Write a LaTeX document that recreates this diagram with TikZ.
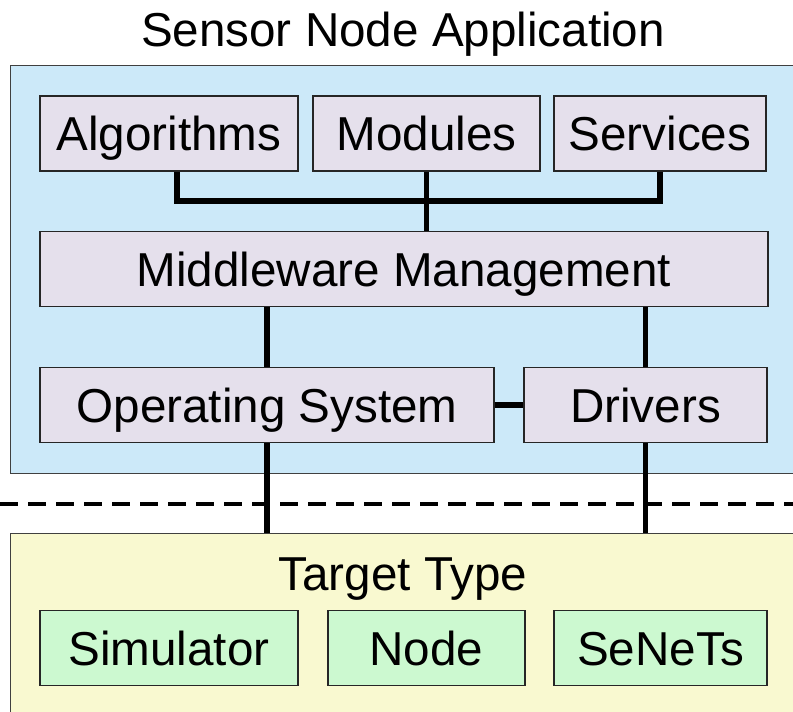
\documentclass[tikz,border=0pt]{standalone}
\usepackage{fontspec}
\setmainfont{Liberation Sans}
\usetikzlibrary{positioning, fit}
\definecolor{appblue}{RGB}{204,233,249}
\definecolor{boxlilac}{RGB}{229,224,236}
\definecolor{tgtyellow}{RGB}{249,249,208}
\definecolor{tgtgreen}{RGB}{204,249,208}
\tikzstyle{line} = [draw, line width=5.5pt]
\tikzstyle{cut} = [draw, line width=4pt, dash pattern=on 18pt off 10pt]
\tikzstyle{area} = [rectangle, draw=black!75, line width=1.3pt, anchor=north west,
  inner sep=0pt]
\tikzstyle{layer} = [rectangle, draw=black!85, line width=1.6pt, fill=boxlilac,
  minimum height=75pt, text height=34pt, text depth=0pt, inner sep=0pt]
\tikzstyle{target} = [layer, fill=tgtgreen]
\begin{document}
\begin{tikzpicture}[x=1pt, y=-1pt, font=\fontsize{47.6}{57}\selectfont]
    \clip (0,0) rectangle (793,712);
    \fill [white] (0,0) rectangle (793,712);

    \node [area, fill=appblue, minimum width=800pt, minimum height=408pt] (app) at (10,65) {};
    \node [area, fill=tgtyellow, minimum width=800pt, minimum height=200pt] (tgt) at (10,533) {};
    \node [anchor=base] (title) at (403,46) {Sensor Node Application};
    \node [anchor=base] (ttype) at (403,590) {Target Type};

    \node [layer, minimum width=258pt] (alg) at (169,133.5) {Algorithms};
    \node [layer, minimum width=227pt] (mod) at (426.5,133.5) {Modules};
    \node [layer, minimum width=212pt] (srv) at (660,133.5) {Services};
    \node [layer, minimum width=728pt] (mw) at (404,269) {Middleware Management};
    \node [layer, minimum width=454pt] (os) at (267,405) {Operating System};
    \node [layer, minimum width=243pt] (drv) at (645.5,405) {Drivers};

    \node [target, minimum width=258pt] (sim) at (169,648) {Simulator};
    \node [target, minimum width=197pt] (node) at (426.5,648) {Node};
    \node [target, minimum width=213pt] (senets) at (660.5,648) {SeNeTs};

    \coordinate (bus) at (427,201);
    \coordinate (cutL) at (0,504);
    \coordinate (cutR) at (793,504);

    \path [cut] (cutL) -- (cutR);

    \path [line] ([xshift=8pt]alg.south) |- (srv.south |- bus) -- (srv.south);
    \path [line] (mod.south) -- (mw.north -| mod.south);
    \path [line] (os.north |- mw.south) -- (os.north);
    \path [line] (drv.north |- mw.south) -- (drv.north);
    \path [line] (os.east) -- (drv.west);
    \path [line] (os.south) -- (os.south |- tgt.north);
    \path [line] (drv.south) -- (drv.south |- tgt.north);

  \end{tikzpicture}
\end{document}
